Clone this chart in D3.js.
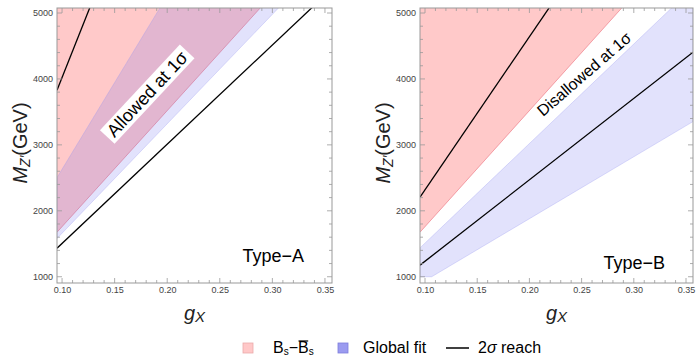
<!DOCTYPE html>
<html>
<head>
<meta charset="utf-8">
<script src="https://cdn.jsdelivr.net/npm/d3@7"></script>
<style>
  body { margin: 0; background: #fff; }
  svg { font-family: "Liberation Sans", Arial, sans-serif; }
</style>
</head>
<body>
<div id="chart"></div>
<script>
// Axis ranges and ticks
var gDomain = [0.0952, 0.3567];
var massDomain = [905, 5076];
var gTicks = [0.10, 0.15, 0.20, 0.25, 0.30, 0.35];
var massTicks = [1000, 2000, 3000, 4000, 5000];

var bsMixSlope = [17600, 17600];           // red region is above this, Type-A / Type-B
var globalFitA = [16600, 26300];           // blue band, Type-A (lower, upper)
var globalFitB = [9400, 15100];            // blue band, Type-B (lower, upper)
var reachA = [15050, 40200];               // 2 sigma reach lines, Type-A
var reachB = [12350, 23200];               // 2 sigma reach lines, Type-B
var massFloor = 1000;                      // fit only scanned down to 1 TeV

var panels = [
  {name: 'Type\u2212A', left: 57, right: 332, red: bsMixSlope[0], blue: globalFitA, reach: reachA,
   note: 'Allowed at 1\u03c3', noteSize: 18, noteX: 147, noteY: 94, noteAngle: -47, noteBox: true, typeY: 262},
  {name: 'Type\u2212B', left: 420, right: 693, red: bsMixSlope[1], blue: globalFitB, reach: reachB,
   note: 'Disallowed at 1\u03c3', noteSize: 16, noteX: 584, noteY: 74, noteAngle: -41, noteBox: false, typeY: 269}
];

var plotTop = 8, plotBottom = 283;

var svg = d3.select('#chart').append('svg')
    .attr('width', 699)
    .attr('height', 356);

panels.forEach(function(p, pi) {
  var x = d3.scaleLinear().domain(gDomain).range([p.left, p.right]);
  var y = d3.scaleLinear().domain(massDomain).range([plotBottom, plotTop]);

  var clipId = 'clip' + pi;
  svg.append('clipPath').attr('id', clipId)
    .append('rect')
      .attr('x', p.left).attr('y', plotTop)
      .attr('width', p.right - p.left).attr('height', plotBottom - plotTop);

  var g = svg.append('g').attr('clip-path', 'url(#' + clipId + ')');
  var gs = [gDomain[0], gDomain[1]];

  // red: Bs mixing
  var redArea = d3.area()
      .x(function(d) { return x(d); })
      .y0(function(d) { return y(p.red * d); })
      .y1(function() { return y(massDomain[1]) - 5; });
  g.append('path').datum(gs)
      .attr('d', redArea)
      .attr('fill', 'rgb(255,120,120)')
      .attr('fill-opacity', 0.4);
  g.append('path').datum(gs)
      .attr('d', d3.line().x(function(d) { return x(d); }).y(function(d) { return y(p.red * d); }))
      .attr('fill', 'none')
      .attr('stroke', 'rgb(240,140,150)')
      .attr('stroke-width', 0.8);

  // blue: global fit band
  var kLo = p.blue[0], kHi = p.blue[1];
  var gBreak = massFloor / kLo;
  var blueGs = gs.concat(gBreak > gDomain[0] ? [gBreak] : []).sort(d3.ascending);
  var blueArea = d3.area()
      .x(function(d) { return x(d); })
      .y0(function(d) { return y(Math.max(massFloor, kLo * d)); })
      .y1(function(d) { return y(kHi * d); });
  g.append('path').datum(blueGs)
      .attr('d', blueArea)
      .attr('fill', 'rgb(110,110,240)')
      .attr('fill-opacity', 0.2)
      .attr('stroke', 'rgb(150,150,240)')
      .attr('stroke-opacity', 0.4)
      .attr('stroke-width', 0.8);

  // black: 2 sigma reach
  p.reach.forEach(function(k) {
    g.append('path').datum(gs)
        .attr('d', d3.line().x(function(d) { return x(d); }).y(function(d) { return y(k * d); }))
        .attr('fill', 'none')
        .attr('stroke', '#000')
        .attr('stroke-width', 1.3);
  });

  // frame
  svg.append('rect')
      .attr('x', p.left).attr('y', plotTop)
      .attr('width', p.right - p.left).attr('height', plotBottom - plotTop)
      .attr('fill', 'none')
      .attr('stroke', '#999')
      .attr('stroke-width', 1);

  // ticks on all four sides
  var gMinor = d3.range(0.10, 0.3601, 0.01);
  var mMinor = d3.range(1000, 5001, 200);
  var ticks = svg.append('g').attr('stroke', '#999').attr('stroke-width', 0.8);
  gMinor.forEach(function(v, i) {
    var len = (i % 5 === 0) ? 5 : 3;
    var xx = x(v);
    if (xx > p.right) return;
    ticks.append('line').attr('x1', xx).attr('x2', xx).attr('y1', plotBottom).attr('y2', plotBottom - len);
    ticks.append('line').attr('x1', xx).attr('x2', xx).attr('y1', plotTop).attr('y2', plotTop + len);
  });
  mMinor.forEach(function(v, i) {
    var len = (i % 5 === 0) ? 5 : 3;
    var yy = y(v);
    ticks.append('line').attr('x1', p.left).attr('x2', p.left + len).attr('y1', yy).attr('y2', yy);
    ticks.append('line').attr('x1', p.right).attr('x2', p.right - len).attr('y1', yy).attr('y2', yy);
  });

  // tick labels
  var xAxis = d3.axisBottom(x).tickValues(gTicks).tickFormat(d3.format('.2f')).tickSize(0).tickPadding(4);
  var xa = svg.append('g').attr('transform', 'translate(0,' + plotBottom + ')').call(xAxis);
  var yAxis = d3.axisLeft(y).tickValues(massTicks).tickFormat(d3.format('d')).tickSize(0).tickPadding(4);
  var ya = svg.append('g').attr('transform', 'translate(' + p.left + ',0)').call(yAxis);
  [xa, ya].forEach(function(a) {
    a.select('.domain').remove();
    a.selectAll('text').attr('font-size', 9).attr('fill', '#444')
        .attr('font-family', '"Liberation Sans", Arial, sans-serif');
  });

  // axis titles
  var cx = (p.left + p.right) / 2;
  var xt = svg.append('text')
      .attr('x', cx).attr('y', 320)
      .attr('text-anchor', 'middle')
      .attr('font-size', 20)
      .attr('fill', '#222');
  xt.append('tspan').attr('font-style', 'italic').text('g');
  xt.append('tspan').attr('font-style', 'italic').attr('font-size', 15).attr('dy', 2).text('X');

  var yt = svg.append('text')
      .attr('transform', 'translate(' + (p.left - 30) + ',143) rotate(-90)')
      .attr('text-anchor', 'middle')
      .attr('font-size', 20)
      .attr('fill', '#222');
  yt.append('tspan').attr('font-style', 'italic').text('M');
  yt.append('tspan').attr('font-style', 'italic').attr('font-size', 14).attr('dy', 3).text('Z\u2032');
  yt.append('tspan').attr('dy', -3).text('(GeV)');

  // annotation along the band
  var note = svg.append('g')
      .attr('transform', 'translate(' + p.noteX + ',' + p.noteY + ') rotate(' + p.noteAngle + ')');
  var nt = note.append('text')
      .attr('text-anchor', 'middle')
      .attr('dy', '0.35em')
      .attr('font-size', p.noteSize)
      .attr('fill', '#000')
      .text(p.note);
  if (p.noteBox) {
    var bb = nt.node().getBBox();
    note.insert('rect', 'text')
        .attr('x', bb.x - 4).attr('y', bb.y)
        .attr('width', bb.width + 8).attr('height', bb.height)
        .attr('fill', '#fff');
  }

  svg.append('text')
      .attr('x', p.right - 28).attr('y', p.typeY)
      .attr('text-anchor', 'end')
      .attr('font-size', 18)
      .attr('fill', '#000')
      .text(p.name);
});

// legend
var legY = 353;
var leg = svg.append('g').attr('font-size', 16);
leg.append('rect').attr('x', 243).attr('y', 343).attr('width', 10).attr('height', 10)
    .attr('fill', 'rgb(255,200,200)').attr('stroke', 'rgb(235,170,170)').attr('stroke-width', 0.8);
var bsText = leg.append('text').attr('x', 273).attr('y', legY).attr('fill', '#000');
bsText.append('tspan').text('B');
bsText.append('tspan').attr('font-size', 10).attr('dy', 2).text('s');
bsText.append('tspan').attr('dy', -2).text('\u2212B');
bsText.append('tspan').attr('font-size', 10).attr('dy', 2).text('s');
var ext = bsText.node().getExtentOfChar(3);
leg.append('line')
    .attr('x1', ext.x + 0.5).attr('x2', ext.x + ext.width - 0.5)
    .attr('y1', ext.y + 2).attr('y2', ext.y + 2)
    .attr('stroke', '#000').attr('stroke-width', 1.2);

leg.append('rect').attr('x', 338).attr('y', 343).attr('width', 10).attr('height', 10)
    .attr('fill', 'rgb(155,155,240)').attr('stroke', 'rgb(125,125,220)').attr('stroke-width', 0.8);
leg.append('text').attr('x', 363).attr('y', legY).attr('fill', '#000').text('Global fit');

leg.append('line').attr('x1', 446).attr('x2', 469).attr('y1', 348).attr('y2', 348)
    .attr('stroke', '#000').attr('stroke-width', 1.5);
leg.append('text').attr('x', 478).attr('y', legY).attr('fill', '#000')
    .html('2<tspan font-style="italic">\u03c3</tspan> reach');
</script>
</body>
</html>
